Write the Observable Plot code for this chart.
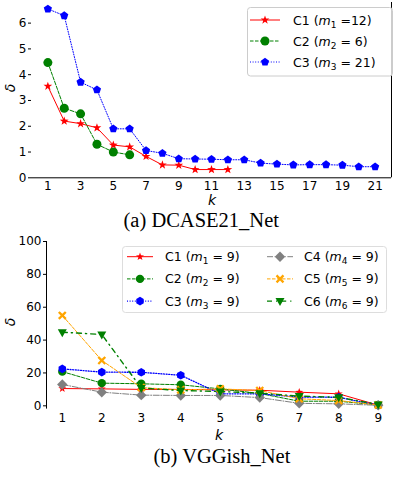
<!DOCTYPE html>
<html>
<head>
<meta charset="utf-8">
<script src="https://cdn.jsdelivr.net/npm/d3@7"></script>
<script src="https://cdn.jsdelivr.net/npm/@observablehq/plot@0.6"></script>
<style>
  html, body { margin: 0; padding: 0; background: #fff; }
  #wrap { position: relative; width: 394px; height: 484px; overflow: hidden; background: #fff; }
  .abs { position: absolute; white-space: nowrap; line-height: 1; color: #000; }
  .axl { font-family: "DejaVu Sans", sans-serif; font-style: italic; font-size: 14px; }
  .cap { font-family: "Liberation Serif", "Times New Roman", serif; font-size: 20.5px; }
</style>
</head>
<body>
<div id="wrap"></div>
<script>
// ---------- data: (a) DCASE21_Net ----------
const seriesTop = ["C1", "C2", "C3"];
const subsTop = ["1", "2", "3"];
const restTop = ["\u00a0=12)", "\u00a0= 6)", "\u00a0= 21)"];
const topC1 = [3.55, 2.2, 2.1, 1.94, 1.27, 1.2, 0.83, 0.5, 0.49, 0.32, 0.32, 0.32];
const topC2 = [4.47, 2.7, 2.48, 1.3, 1.0, 0.89];
const topC3 = [6.55, 6.29, 3.71, 3.41, 1.9, 1.9, 1.06, 0.95, 0.74, 0.73, 0.72, 0.7, 0.7, 0.57, 0.53, 0.5, 0.51, 0.51, 0.49, 0.43, 0.43];
const xTicksTop = [1, 3, 5, 7, 9, 11, 13, 15, 17, 19, 21];
const yTicksTop = [0, 1, 2, 3, 4, 5, 6];

// ---------- data: (b) VGGish_Net ----------
const seriesBot = ["C1", "C2", "C3", "C4", "C5", "C6"];
const subsBot = ["1", "2", "3", "4", "5", "6"];
const restBot = ["\u00a0= 9)", "\u00a0= 9)", "\u00a0= 9)", "\u00a0= 9)", "\u00a0= 9)", "\u00a0= 9)"];
const botC1 = [10.5, 10.3, 10.0, 10.0, 9.7, 9.5, 8.3, 7.3, 0.4];
const botC2 = [20.8, 13.8, 13.4, 12.8, 10.3, 7.5, 2.8, 2.8, 0.5];
const botC3 = [22.5, 20.5, 20.4, 18.6, 7.3, 7.3, 5.3, 5.2, 0.3];
const botC4 = [13.0, 8.3, 6.5, 6.3, 6.3, 5.0, 1.5, 1.2, 0.3];
const botC5 = [55.0, 27.6, 11.1, 9.7, 10.3, 9.3, 4.3, 3.2, 0.5];
const botC6 = [44.8, 43.4, 10.8, 9.3, 8.7, 7.7, 5.9, 5.2, 0.8];
const xTicksBot = [1, 2, 3, 4, 5, 6, 7, 8, 9];
const yTicksBot = [0, 20, 40, 60, 80, 100];

// ---------- custom marker symbols (size = pi r^2) ----------
function rad(size) { return Math.sqrt(size / Math.PI); }
function poly(ctx, pts) { pts.forEach(([x, y], i) => i ? ctx.lineTo(x, y) : ctx.moveTo(x, y)); ctx.closePath(); }
const symStar = { draw(ctx, size) { const r = rad(size), ri = r * 0.4, pts = [];
  for (let i = 0; i < 10; i++) { const a = -Math.PI / 2 + i * Math.PI / 5, rr = i % 2 ? ri : r; pts.push([rr * Math.cos(a), rr * Math.sin(a)]); }
  poly(ctx, pts); } };
const symCircle = { draw(ctx, size) { const r = rad(size); ctx.moveTo(r, 0); ctx.arc(0, 0, r, 0, 2 * Math.PI); } };
const symPentagon = { draw(ctx, size) { const r = rad(size), pts = [];
  for (let i = 0; i < 5; i++) { const a = -Math.PI / 2 + i * 2 * Math.PI / 5; pts.push([r * Math.cos(a), r * Math.sin(a)]); }
  poly(ctx, pts); } };
const symHexagon = { draw(ctx, size) { const r = rad(size), pts = [];
  for (let i = 0; i < 6; i++) { const a = -Math.PI / 2 + i * Math.PI / 3; pts.push([r * Math.cos(a), r * Math.sin(a)]); }
  poly(ctx, pts); } };
const symDiamond = { draw(ctx, size) { const r = rad(size); poly(ctx, [[0, -r], [r, 0], [0, r], [-r, 0]]); } };
const symTriDown = { draw(ctx, size) { const r = rad(size); poly(ctx, [[-r * 0.9, -r * 0.6], [r * 0.9, -r * 0.6], [0, r]]); } };
const symX = { draw(ctx, size) { const r = rad(size), w = r * 0.38;
  poly(ctx, [[-r, -r + w], [-r + w, -r], [0, -w], [r - w, -r], [r, -r + w], [w, 0], [r, r - w], [r - w, r], [0, w], [-r + w, r], [-r, r - w], [-w, 0]]); } };

const DASHED = "3.5,1.5", DOTTED = "1,1.6", DASHDOT = "6,1.6,1,1.6", DASHDOT2 = "5,4,1.2,4";

const stylesTop = [
  { color: "#ff0000", dash: null, sym: symStar, r: 4.6, w: 1 },
  { color: "#008000", dash: DASHED, sym: symCircle, r: 4.5, w: 1 },
  { color: "#0000ff", dash: DOTTED, sym: symPentagon, r: 4.3, w: 1 }
];
const stylesBot = [
  { color: "#ff0000", dash: null, sym: symStar, r: 4.2, w: 1 },
  { color: "#008000", dash: DASHED, sym: symCircle, r: 4.2, w: 1 },
  { color: "#0000ff", dash: DOTTED, sym: symHexagon, r: 4.3, w: 1.3 },
  { color: "#808080", dash: DASHDOT, sym: symDiamond, r: 5.2, w: 1 },
  { color: "#ffa500", dash: DASHED, sym: symX, r: 4.3, w: 1 },
  { color: "#008000", dash: DASHDOT2, sym: symTriDown, r: 5, w: 1.4 }
];

function toRows(vals) { return vals.map((v, i) => ({ k: i + 1, v })); }
function seriesMarks(rows, st) {
  return [
    Plot.line(rows, { x: "k", y: "v", stroke: st.color, strokeWidth: st.w, strokeDasharray: st.dash || undefined }),
    Plot.dot(rows, { x: "k", y: "v", symbol: st.sym, r: st.r, fill: st.color, stroke: "none" })
  ];
}

const font = { fontFamily: "DejaVu Sans, sans-serif", fontSize: "12px", color: "black", background: "transparent", overflow: "visible" };
const fmt = d => String(d);

// ---------- plot (a) ----------
const dataTop = [topC1, topC2, topC3].map(toRows);
const p1 = Plot.plot({
  width: 394, height: 200,
  marginLeft: 31, marginRight: 3, marginTop: 2, marginBottom: 22.7,
  style: font,
  x: { domain: [0, 22], ticks: xTicksTop, tickFormat: fmt, tickSize: 0, tickPadding: 4, label: null },
  y: { domain: [0, 6.8], ticks: yTicksTop, tickFormat: fmt, tickSize: 3, tickPadding: 2, label: null },
  marks: [
    Plot.ruleY([0], { stroke: "black", strokeWidth: 1 }),
    Plot.ruleX([22], { stroke: "black", strokeWidth: 1 }),
    ...dataTop.flatMap((rows, i) => seriesMarks(rows, stylesTop[i]))
  ]
});

// ---------- plot (b) ----------
const dataBot = [botC1, botC2, botC3, botC4, botC5, botC6].map(toRows);
const p2 = Plot.plot({
  width: 394, height: 200,
  marginLeft: 46, marginRight: 0.5, marginTop: 11, marginBottom: 21.4,
  style: font,
  x: { domain: [0.6, 9.4], ticks: xTicksBot, tickFormat: fmt, tickSize: 0, tickPadding: 4, label: null },
  y: { domain: [-2, 100], ticks: yTicksBot, tickFormat: fmt, tickSize: 3, tickPadding: 2, label: null },
  marks: [
    Plot.ruleX([0.6], { stroke: "black", strokeWidth: 1 }),
    ...dataBot.flatMap((rows, i) => seriesMarks(rows, stylesBot[i]))
  ]
});

// ---------- legends (layout only) ----------
function legendEntry(g, x0, x1, y, st, name, sub, rest, tx) {
  const line = g.append("line").attr("x1", x0).attr("x2", x1).attr("y1", y).attr("y2", y)
    .attr("stroke", st.color).attr("stroke-width", st.w);
  if (st.dash) line.attr("stroke-dasharray", st.dash);
  g.append("path").attr("transform", `translate(${(x0 + x1) / 2},${y})`)
    .attr("d", d3.symbol().type(st.sym).size(Math.PI * st.r * st.r)()).attr("fill", st.color);
  const t = g.append("text").attr("x", tx).attr("y", y).attr("dy", "0.36em")
    .attr("text-anchor", "start")
    .style("font-family", "DejaVu Sans, sans-serif").style("font-size", "12.5px").attr("fill", "black");
  t.append("tspan").text(name + " (");
  t.append("tspan").style("font-style", "italic").text("m");
  t.append("tspan").attr("dy", 3).style("font-size", "9px").text(sub);
  t.append("tspan").attr("dy", -3).text(rest);
}

const g1 = d3.select(p1).append("g");
g1.append("rect").attr("x", 247.5).attr("y", 7.5).attr("width", 145).attr("height", 68.5)
  .attr("rx", 3).attr("fill", "white").attr("fill-opacity", 0.8).attr("stroke", "#cccccc");
seriesTop.forEach((s, i) => legendEntry(g1, 250, 280, 20 + i * 21, stylesTop[i], s, subsTop[i], restTop[i], 293));

const g2 = d3.select(p2).append("g");
g2.append("rect").attr("x", 122.5).attr("y", 16.5).attr("width", 264).attr("height", 66)
  .attr("rx", 3).attr("fill", "white").attr("fill-opacity", 0.8).attr("stroke", "#dddddd");
seriesBot.forEach((s, i) => {
  const col = Math.floor(i / 3), row = i % 3;
  const x0 = col ? 267 : 127;
  legendEntry(g2, x0, x0 + 26, 26.7 + row * 22.2, stylesBot[i], s, subsBot[i], restBot[i], col ? 304 : 165);
});

// ---------- assemble ----------
const wrap = document.getElementById("wrap");
function place(el, left, top) { el.style.position = "absolute"; el.style.left = left + "px"; el.style.top = top + "px"; wrap.appendChild(el); }
place(p1, 0, 0);
place(p2, 0, 230);

function label(text, cls, cx, cy, rotate) {
  const d = document.createElement("div");
  d.className = "abs " + cls;
  d.textContent = text;
  wrap.appendChild(d);
  const w = d.offsetWidth, h = d.offsetHeight;
  d.style.left = (cx - w / 2) + "px";
  d.style.top = (cy - h / 2) + "px";
  if (rotate) d.style.transform = "rotate(-90deg)";
}
label("δ", "axl", 10, 88, true);
label("k", "axl", 212, 200);
label("(a) DCASE21_Net", "cap", 201, 220);
label("δ", "axl", 10, 322, true);
label("k", "axl", 219, 435);
label("(b) VGGish_Net", "cap", 222, 456);
</script>
</body>
</html>
